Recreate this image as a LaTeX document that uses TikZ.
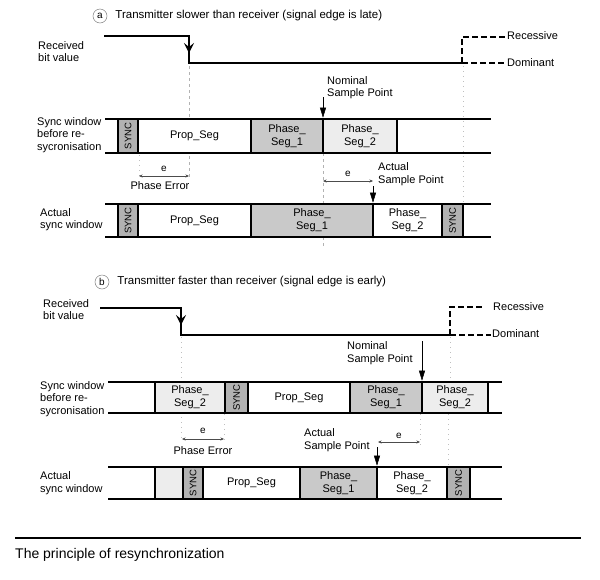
\documentclass[tikz,border=0pt]{standalone}
\usepackage{fontspec}
\setmainfont{Liberation Sans}
\usetikzlibrary{positioning,arrows.meta}
\definecolor{syncgray}{gray}{0.70}
\definecolor{phasegray}{gray}{0.79}
\definecolor{paleseg}{gray}{0.93}
\begin{document}
\begin{tikzpicture}[x=1pt,y=-1pt]

		\tikzstyle{txt}=[inner sep=0pt,align=left,anchor=west,
			font=\fontsize{11}{12.5}\selectfont]
		\tikzstyle{seg}=[rectangle,draw=black,line width=2.6pt,
			inner sep=0pt,outer sep=0pt,align=center,
			font=\fontsize{11}{13}\selectfont]
		\tikzstyle{sync}=[seg,fill=syncgray,rotate=90,
			font=\fontsize{9.5}{11}\selectfont]
		\tikzstyle{rail}=[draw=black,line width=2.6pt]
		\tikzstyle{signal}=[draw=black,line width=2.6pt]
		\tikzstyle{level}=[draw=black,line width=2.6pt,
			dash pattern=on 6pt off 3pt]
		\tikzstyle{guide}=[draw=gray!60,line width=0.5pt,
			dash pattern=on 3pt off 3pt]
		\tikzstyle{dots}=[draw=gray!50,line width=0.6pt,
			dash pattern=on 1pt off 4pt]
		\tikzstyle{edge}=[-{Stealth[length=10pt,width=10pt,inset=4pt]},
			draw=black,line width=2.6pt]
		\tikzstyle{sample}=[-{Triangle[length=10pt,width=6pt]},
			draw=black,line width=0.5pt]
		\tikzstyle{error}=[{Stealth[length=3.5pt,width=3pt]}-{Stealth[length=3.5pt,width=3pt]},
			draw=gray!60!black,line width=0.5pt]
		\tikzstyle{tag}=[circle,draw=gray,line width=0.5pt,
			minimum size=14pt,inner sep=0pt,
			font=\fontsize{10}{12}\selectfont]

		\useasboundingbox (0,0) rectangle (600,579);

		% guide lines behind the windows
		\draw[guide]	(189,66)	--	(189,177);
		\draw[guide]	(323,153)	--	(323,247);
		\draw[dots]	(139,155)	--	(139,178);
		\draw[dots]	(463,66)	--	(463,202);
		\draw[dots]	(181,337)	--	(181,440);
		\draw[dots]	(224,414)	--	(224,440);
		\draw[dots]	(450,337)	--	(450,380);
		\draw[dots]	(420,414)	--	(420,446);
		\draw[dots]	(448,414)	--	(448,465);

		%%% (a) transmitter slower
		\node[tag]	(a-tag)	at (100,16)	{a};
		\node[txt,right=8pt of a-tag,font=\fontsize{11.5}{13}\selectfont]	(a-title)
			{Transmitter slower than receiver (signal edge is late)};

		\node[txt]	(a-rx)	at (38,51.5)	{Received\\bit value};
		\draw[signal]	(104,36) -- (189,36) -- (189,63) -- (462,63);
		\draw[edge]	(189,36) -- (189,53);
		\draw[level]	(462,63) -- (462,37) -- (505,37);
		\draw[level]	(462,63) -- (504,63);
		\node[txt]	(a-rec)	at (507,36)	{Recessive};
		\node[txt]	(a-dom)	at (507,63)	{Dominant};

		\node[txt]	(a-before)	at (37,135)	{Sync window\\before re-\\sycronisation};
		\draw[rail]	(105,119) -- (491,119);
		\draw[rail]	(105,153) -- (491,153);
		\node[sync,minimum width=34,minimum height=20]	(a1-sync)	at (128,136)	{SYNC};
		\node[seg,fill=white,minimum width=113,minimum height=34,anchor=west]	(a1-prop)	at (138,136)	{Prop\_Seg};
		\node[seg,fill=phasegray,minimum width=72,minimum height=34,right=0pt of a1-prop]	(a1-ph1)	{Phase\_\\Seg\_1};
		\node[seg,fill=paleseg,minimum width=74,minimum height=34,right=0pt of a1-ph1]	(a1-ph2)	{Phase\_\\Seg\_2};

		\node[txt]	(a-nom)	at (327,87.5)	{Nominal\\Sample Point};
		\coordinate	(a-nom-top)	at (323,97);
		\draw[sample,shorten >=1.3pt]	(a-nom-top)	--	(a1-ph1.north east);

		\coordinate	(a-err)	at (139,176);
		\coordinate	(a-edge)	at (189,176);
		\draw[error]	(a-err)	--	node[above=4pt,inner sep=0pt] (a-e1) {e}	(a-edge);
		\node[txt,anchor=center]	(a-phase)	at (160,186)	{Phase Error};

		\coordinate	(a-shift)	at (323,181);
		\coordinate	(a-late)	at (373,181);
		\draw[error]	(a-shift)	--	node[above=4pt,inner sep=0pt] (a-e2) {e}	(a-late);
		\node[txt]	(a-act)	at (378,174)	{Actual\\Sample Point};

		\node[txt]	(a-actual)	at (40,219.5)	{Actual\\sync window};
		\draw[rail]	(105,204) -- (491,204);
		\draw[rail]	(105,237) -- (491,237);
		\node[sync,minimum width=33,minimum height=20]	(a2-sync)	at (128,220.5)	{SYNC};
		\node[seg,fill=white,minimum width=113,minimum height=33,anchor=west]	(a2-prop)	at (138,220.5)	{Prop\_Seg};
		\node[seg,fill=phasegray,minimum width=122,minimum height=33,right=0pt of a2-prop]	(a2-ph1)	{Phase\_\\Seg\_1};
		\node[seg,fill=white,minimum width=69,minimum height=33,right=0pt of a2-ph1]	(a2-ph2)	{Phase\_\\Seg\_2};
		\node[sync,minimum width=33,minimum height=21]	(a2-sync2)	at (452.5,220.5)	{SYNC};

		\coordinate	(a-act-top)	at (373,186);
		\draw[sample,shorten >=1.3pt]	(a-act-top)	--	(a2-ph1.north east);

		%%% (b) transmitter faster
		\node[tag]	(b-tag)	at (102,282)	{b};
		\node[txt,right=8pt of b-tag,font=\fontsize{11.5}{13}\selectfont]	(b-title)
			{Transmitter faster than receiver (signal edge is early)};

		\node[txt]	(b-rx)	at (43,309.5)	{Received\\bit value};
		\draw[signal]	(100,308) -- (181,308) -- (181,335) -- (450,335);
		\draw[edge]	(181,308) -- (181,325);
		\draw[level]	(450,335) -- (450,307) -- (482,307);
		\draw[level]	(450,335) -- (491,335);
		\node[txt]	(b-rec)	at (493,307)	{Recessive};
		\node[txt]	(b-dom)	at (492,334)	{Dominant};

		\node[txt]	(b-nom)	at (347,353)	{Nominal\\Sample Point};

		\node[txt]	(b-before)	at (40,399)	{Sync window\\before re-\\sycronisation};
		\draw[rail]	(108,382) -- (502,382);
		\draw[rail]	(108,413) -- (502,413);
		\node[seg,fill=paleseg,minimum width=70,minimum height=31,anchor=west]	(b1-ph2a)	at (155,397.5)	{Phase\_\\Seg\_2};
		\node[sync,minimum width=31,minimum height=23]	(b1-sync)	at (236.5,397.5)	{SYNC};
		\node[seg,fill=white,minimum width=102,minimum height=31,anchor=west]	(b1-prop)	at (248,397.5)	{Prop\_Seg};
		\node[seg,fill=phasegray,minimum width=72,minimum height=31,right=0pt of b1-prop]	(b1-ph1)	{Phase\_\\Seg\_1};
		\node[seg,fill=paleseg,minimum width=66,minimum height=31,right=0pt of b1-ph1]	(b1-ph2)	{Phase\_\\Seg\_2};

		\coordinate	(b-nom-top)	at (422,341);
		\draw[sample,shorten >=1.3pt]	(b-nom-top)	--	(b1-ph1.north east);

		\coordinate	(b-edge)	at (182,439);
		\coordinate	(b-err)	at (224,439);
		\draw[error]	(b-edge)	--	node[above=5pt,inner sep=0pt] (b-e1) {e}	(b-err);
		\node[txt,anchor=center]	(b-phase)	at (203,451)	{Phase Error};

		\coordinate	(b-early)	at (378,442);
		\coordinate	(b-shift)	at (420,442);
		\draw[error]	(b-early)	--	node[above=3pt,inner sep=0pt] (b-e2) {e}	(b-shift);
		\node[txt]	(b-act)	at (304,440)	{Actual\\Sample Point};

		\node[txt]	(b-actual)	at (40,483)	{Actual\\sync window};
		\draw[rail]	(108,467) -- (502,467);
		\draw[rail]	(108,499) -- (502,499);
		\node[seg,fill=paleseg,minimum width=28,minimum height=32,anchor=west]	(b2-rest)	at (155,483)	{};
		\node[sync,minimum width=32,minimum height=20]	(b2-sync)	at (193,483)	{SYNC};
		\node[seg,fill=white,minimum width=97,minimum height=32,anchor=west]	(b2-prop)	at (203,483)	{Prop\_Seg};
		\node[seg,fill=phasegray,minimum width=77,minimum height=32,right=0pt of b2-prop]	(b2-ph1)	{Phase\_\\Seg\_1};
		\node[seg,fill=white,minimum width=70,minimum height=32,right=0pt of b2-ph1]	(b2-ph2)	{Phase\_\\Seg\_2};
		\node[sync,minimum width=32,minimum height=23]	(b2-sync2)	at (458.5,483)	{SYNC};

		\coordinate	(b-act-top)	at (377,447);
		\draw[sample,shorten >=1.3pt]	(b-act-top)	--	(b2-ph1.north east);

		% caption
		\draw[line width=1.2pt]	(15,538) -- (581,538);
		\node[txt,font=\fontsize{14}{16}\selectfont]	(caption)	at (15,555)	{The principle of resynchronization};

	\end{tikzpicture}
\end{document}
